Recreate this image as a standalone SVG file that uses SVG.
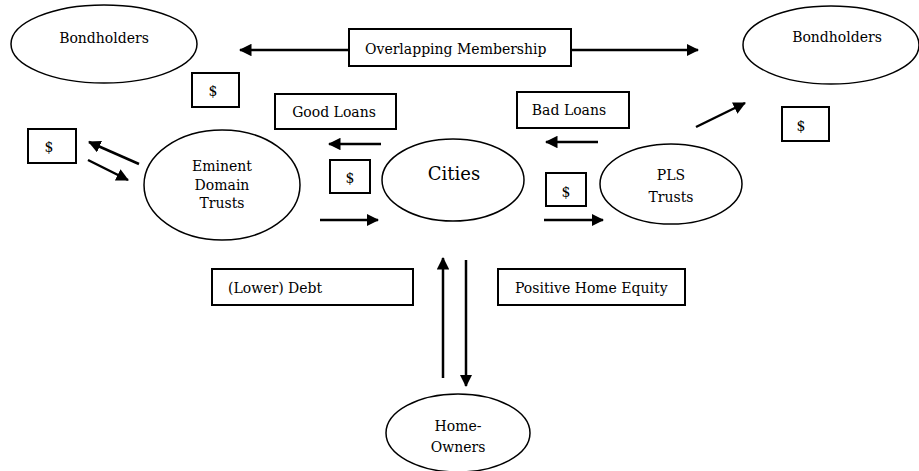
<svg xmlns="http://www.w3.org/2000/svg" width="919" height="471" viewBox="0 0 919 471">
  <defs>
    <marker id="arrow" markerWidth="5" markerHeight="5" refX="4.6" refY="2.5" orient="auto" markerUnits="strokeWidth">
      <path d="M0,0 L5,2.5 L0,5 Z" fill="#000"/>
    </marker>
    <style>
      .oval { fill: #fff; stroke: #000; stroke-width: 1.5; }
      .box { fill: #fff; stroke: #000; stroke-width: 2; }
      .lbl { font-family: "DejaVu Serif", "Liberation Serif", serif; font-size: 14px; fill: #000; }
      .mid { text-anchor: middle; }
      .link { stroke: #000; stroke-width: 2.5; fill: none; marker-end: url(#arrow); }
    </style>
  </defs>
  <rect width="919" height="471" fill="#fff"/>

  <!-- connectors -->
  <g id="connectors">
    <line class="link" x1="349" y1="50" x2="240" y2="50"/>
    <line class="link" x1="571" y1="50" x2="698" y2="50"/>
    <line class="link" x1="139" y1="164" x2="89" y2="142"/>
    <line class="link" x1="88" y1="160" x2="128" y2="180"/>
    <line class="link" x1="381" y1="144" x2="329" y2="144"/>
    <line class="link" x1="320" y1="220" x2="378" y2="220"/>
    <line class="link" x1="598" y1="142" x2="546" y2="142"/>
    <line class="link" x1="544" y1="220" x2="603" y2="220"/>
    <line class="link" x1="696" y1="127" x2="745" y2="103"/>
    <line class="link" x1="443" y1="378" x2="443" y2="258"/>
    <line class="link" x1="466" y1="260" x2="466" y2="386"/>
  </g>

  <!-- parties -->
  <g id="bondholders-left">
    <ellipse class="oval" cx="104" cy="44" rx="93" ry="39"/>
    <text class="lbl mid" x="104" y="43">Bondholders</text>
  </g>
  <g id="bondholders-right">
    <ellipse class="oval" cx="831" cy="45" rx="88" ry="39"/>
    <text class="lbl mid" x="837" y="42">Bondholders</text>
  </g>
  <g id="eminent-domain-trusts">
    <ellipse class="oval" cx="222" cy="185" rx="78" ry="55"/>
    <text class="lbl mid" x="222" y="171">Eminent</text>
    <text class="lbl mid" x="222" y="190">Domain</text>
    <text class="lbl mid" x="222" y="208">Trusts</text>
  </g>
  <g id="cities">
    <ellipse class="oval" cx="453" cy="180" rx="71" ry="41"/>
    <text class="lbl mid" x="454" y="180" style="font-size:18px">Cities</text>
  </g>
  <g id="pls-trusts">
    <ellipse class="oval" cx="671" cy="184" rx="71" ry="40"/>
    <text class="lbl mid" x="671" y="180">PLS</text>
    <text class="lbl mid" x="671" y="202">Trusts</text>
  </g>
  <g id="home-owners">
    <ellipse class="oval" cx="458" cy="433" rx="72" ry="39"/>
    <text class="lbl mid" x="458" y="431">Home-</text>
    <text class="lbl mid" x="458" y="452">Owners</text>
  </g>

  <!-- flow labels -->
  <g id="overlapping-membership">
    <rect class="box" x="349" y="29" width="222" height="37"/>
    <text class="lbl" x="365" y="54">Overlapping Membership</text>
  </g>
  <g id="good-loans">
    <rect class="box" x="275" y="94" width="121" height="35"/>
    <text class="lbl mid" x="334" y="117">Good Loans</text>
  </g>
  <g id="bad-loans">
    <rect class="box" x="517" y="92" width="112" height="36"/>
    <text class="lbl mid" x="569" y="115">Bad Loans</text>
  </g>
  <g id="lower-debt">
    <rect class="box" x="212" y="269" width="201" height="36"/>
    <text class="lbl" x="228" y="293">(Lower) Debt</text>
  </g>
  <g id="positive-home-equity">
    <rect class="box" x="498" y="269" width="187" height="36"/>
    <text class="lbl" x="515" y="293">Positive Home Equity</text>
  </g>

  <!-- payment tokens -->
  <g id="dollar-bondholders-left">
    <rect class="box" x="192" y="73" width="47" height="34"/>
    <text class="lbl mid" x="213" y="96">$</text>
  </g>
  <g id="dollar-eminent">
    <rect class="box" x="28" y="129" width="48" height="34"/>
    <text class="lbl mid" x="49" y="152">$</text>
  </g>
  <g id="dollar-cities">
    <rect class="box" x="330" y="160" width="40" height="33"/>
    <text class="lbl mid" x="350" y="183">$</text>
  </g>
  <g id="dollar-pls">
    <rect class="box" x="546" y="173" width="40" height="33"/>
    <text class="lbl mid" x="566" y="197">$</text>
  </g>
  <g id="dollar-bondholders-right">
    <rect class="box" x="782" y="107" width="47" height="34"/>
    <text class="lbl mid" x="801" y="131">$</text>
  </g>
</svg>
